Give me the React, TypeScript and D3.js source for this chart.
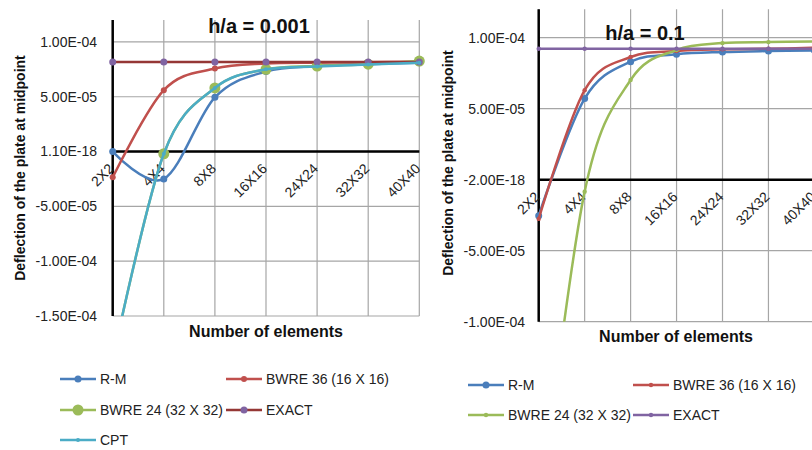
import React from 'react';
import * as d3 from 'd3';

const categories = ['2X2', '4X4', '8X8', '16X16', '24X24', '32X32', '40X40'];

// h/a = 0.001
const leftRM = [0, -2.5e-5, 4.95e-5, 7.3e-5, 7.8e-5, 7.97e-5, 8.1e-5];
const leftBWRE36 = [-2.35e-5, 5.6e-5, 7.57e-5, 8.03e-5, 8.1e-5, 8.15e-5, 8.2e-5];
const leftBWRE24 = [-1.9e-4, -2e-6, 5.8e-5, 7.5e-5, 7.8e-5, 7.97e-5, 8.25e-5];
const leftExact = [8.18e-5, 8.18e-5, 8.18e-5, 8.18e-5, 8.18e-5, 8.18e-5, 8.18e-5];
const leftCPT = [-1.9e-4, -2e-6, 5.8e-5, 7.5e-5, 7.75e-5, 7.95e-5, 8.1e-5];
const leftTickValues = [-1.5e-4, -1e-4, -5e-5, 0, 5e-5, 1e-4];
const leftTickLabels = ['-1.50E-04', '-1.00E-04', '-5.00E-05', '1.10E-18', '5.00E-05', '1.00E-04'];

// h/a = 0.1
const rightRM = [-2.53e-5, 5.71e-5, 8.31e-5, 8.83e-5, 8.99e-5, 9.06e-5, 9.1e-5];
const rightBWRE36 = [-2.76e-5, 6.3e-5, 8.64e-5, 9.06e-5, 9.18e-5, 9.22e-5, 9.29e-5];
const rightBWRE24 = [-2.4e-4, -8.4e-6, 7.02e-5, 9.13e-5, 9.62e-5, 9.69e-5, 9.74e-5];
const rightExact = [9.22e-5, 9.22e-5, 9.22e-5, 9.22e-5, 9.22e-5, 9.22e-5, 9.22e-5];
const rightTickValues = [-1e-4, -5e-5, 0, 5e-5, 1e-4];
const rightTickLabels = ['-1.00E-04', '-5.00E-05', '-2.00E-18', '5.00E-05', '1.00E-04'];

const FONT = "'Liberation Sans', Arial, sans-serif";

type Series = { name: string; values: number[]; line: string; marker: string; r: number };

type PanelProps = {
  id: string;
  x0: number; x1: number; yTop: number; yBottom: number;
  domain: [number, number];
  tickValues: number[]; tickLabels: string[];
  series: Series[];
  title: string; titleX: number; titleY: number;
  yTitleX: number; yTitleY: number;
  xTitleX: number; xTitleY: number;
  tickLabelX: number;
  legend: { x: number; y: number; s: number }[];
};

function Panel(p: PanelProps) {
  const x = d3.scalePoint<string>().domain(categories).range([p.x0, p.x1]);
  const y = d3.scaleLinear().domain(p.domain).range([p.yBottom, p.yTop]);
  const line = d3
    .line<number>()
    .x((_, i) => x(categories[i]) as number)
    .y((d) => y(d))
    .curve(d3.curveCardinal.tension(0));
  const zeroY = y(0);
  return (
    <g>
      <defs>
        <clipPath id={p.id}>
          <rect x={p.x0 - 8} y={p.yTop - 8} width={p.x1 - p.x0 + 16} height={p.yBottom - p.yTop + 8} />
        </clipPath>
      </defs>
      {p.tickValues.map((v) => (
        <line key={'h' + v} x1={p.x0} x2={p.x1} y1={y(v)} y2={y(v)} stroke="#a6a6a6" strokeWidth={1.2} />
      ))}
      {categories.map((c) => (
        <line key={'v' + c} x1={x(c)} x2={x(c)} y1={p.yTop} y2={p.yBottom} stroke="#a6a6a6" strokeWidth={1.2} />
      ))}
      <line x1={p.x0} x2={p.x0} y1={p.yTop} y2={p.yBottom} stroke="#000" strokeWidth={2.5} />
      <line x1={p.x0} x2={p.x1} y1={zeroY} y2={zeroY} stroke="#000" strokeWidth={2.5} />
      {p.tickValues.map((v, i) => (
        <text key={'t' + v} x={p.tickLabelX} y={y(v)} dy="0.35em" textAnchor="end" fontSize={14} fontFamily={FONT} fill="#222">
          {p.tickLabels[i]}
        </text>
      ))}
      {categories.map((c) => (
        <text
          key={'c' + c}
          transform={`translate(${(x(c) as number) + 2},${zeroY + 18}) rotate(-45)`}
          textAnchor="end"
          fontSize={14}
          fontFamily={FONT}
          fill="#222"
        >
          {c}
        </text>
      ))}
      <g clipPath={`url(#${p.id})`}>
        {p.series.map((s) => (
          <g key={s.name}>
            <path d={line(s.values) || ''} fill="none" stroke={s.line} strokeWidth={2.5} />
            {s.values.map((v, i) => (
              <circle key={i} cx={x(categories[i])} cy={y(v)} r={s.r} fill={s.marker} />
            ))}
          </g>
        ))}
      </g>
      <text x={p.titleX} y={p.titleY} textAnchor="middle" fontSize={20} fontWeight="bold" fontFamily={FONT} fill="#111">
        {p.title}
      </text>
      <text
        transform={`translate(${p.yTitleX},${p.yTitleY}) rotate(-90)`}
        textAnchor="middle"
        dy="0.35em"
        fontSize={14}
        fontWeight="bold"
        fontFamily={FONT}
        fill="#111"
      >
        Deflection of the plate at midpoint
      </text>
      <text x={p.xTitleX} y={p.xTitleY} textAnchor="middle" dy="0.35em" fontSize={16} fontWeight="bold" fontFamily={FONT} fill="#111">
        Number of elements
      </text>
      {p.legend.map((l) => {
        const s = p.series[l.s];
        return (
          <g key={'l' + s.name}>
            <line x1={l.x} x2={l.x + 36} y1={l.y} y2={l.y} stroke={s.line} strokeWidth={2.5} />
            <circle cx={l.x + 18} cy={l.y} r={s.r} fill={s.marker} />
            <text x={l.x + 40} y={l.y} dy="0.35em" fontSize={14} fontFamily={FONT} fill="#222">
              {s.name}
            </text>
          </g>
        );
      })}
    </g>
  );
}

export default function App() {
  const leftSeries: Series[] = [
    { name: 'R-M', values: leftRM, line: '#4a7ebb', marker: '#4a7ebb', r: 3.5 },
    { name: 'BWRE 36 (16 X 16)', values: leftBWRE36, line: '#c0504d', marker: '#c0504d', r: 3 },
    { name: 'BWRE 24 (32 X 32)', values: leftBWRE24, line: '#9bbb59', marker: '#9bbb59', r: 5.5 },
    { name: 'EXACT', values: leftExact, line: '#953735', marker: '#8064a2', r: 3.5 },
    { name: 'CPT', values: leftCPT, line: '#4bacc6', marker: '#4bacc6', r: 2 },
  ];
  const rightSeries: Series[] = [
    { name: 'R-M', values: rightRM, line: '#4a7ebb', marker: '#4a7ebb', r: 3.5 },
    { name: 'BWRE 36 (16 X 16)', values: rightBWRE36, line: '#c0504d', marker: '#c0504d', r: 2.2 },
    { name: 'BWRE 24 (32 X 32)', values: rightBWRE24, line: '#9bbb59', marker: '#9bbb59', r: 2.2 },
    { name: 'EXACT', values: rightExact, line: '#8064a2', marker: '#8064a2', r: 2.2 },
  ];
  return (
    <svg width={812} height={450} style={{ position: 'absolute', left: 0, top: 0, background: '#fff' }}>
      <rect width={812} height={450} fill="#fff" />
      <Panel
        id="clipL"
        x0={112.7}
        x1={419.3}
        yTop={20}
        yBottom={316}
        domain={[-1.5e-4, 1.2e-4]}
        tickValues={leftTickValues}
        tickLabels={leftTickLabels}
        series={leftSeries}
        title="h/a = 0.001"
        titleX={259}
        titleY={33}
        yTitleX={20}
        yTitleY={168}
        xTitleX={266}
        xTitleY={331}
        tickLabelX={97}
        legend={[
          { x: 60, y: 379, s: 0 },
          { x: 226, y: 379, s: 1 },
          { x: 60, y: 410, s: 2 },
          { x: 226, y: 410, s: 3 },
          { x: 60, y: 440, s: 4 },
        ]}
      />
      <Panel
        id="clipR"
        x0={538.7}
        x1={814.4}
        yTop={9.3}
        yBottom={321.7}
        domain={[-1e-4, 1.2e-4]}
        tickValues={rightTickValues}
        tickLabels={rightTickLabels}
        series={rightSeries}
        title="h/a = 0.1"
        titleX={645}
        titleY={40}
        yTitleX={448}
        yTitleY={163}
        xTitleX={676}
        xTitleY={336}
        tickLabelX={525}
        legend={[
          { x: 468, y: 385, s: 0 },
          { x: 633, y: 385, s: 1 },
          { x: 468, y: 415, s: 2 },
          { x: 633, y: 415, s: 3 },
        ]}
      />
    </svg>
  );
}
